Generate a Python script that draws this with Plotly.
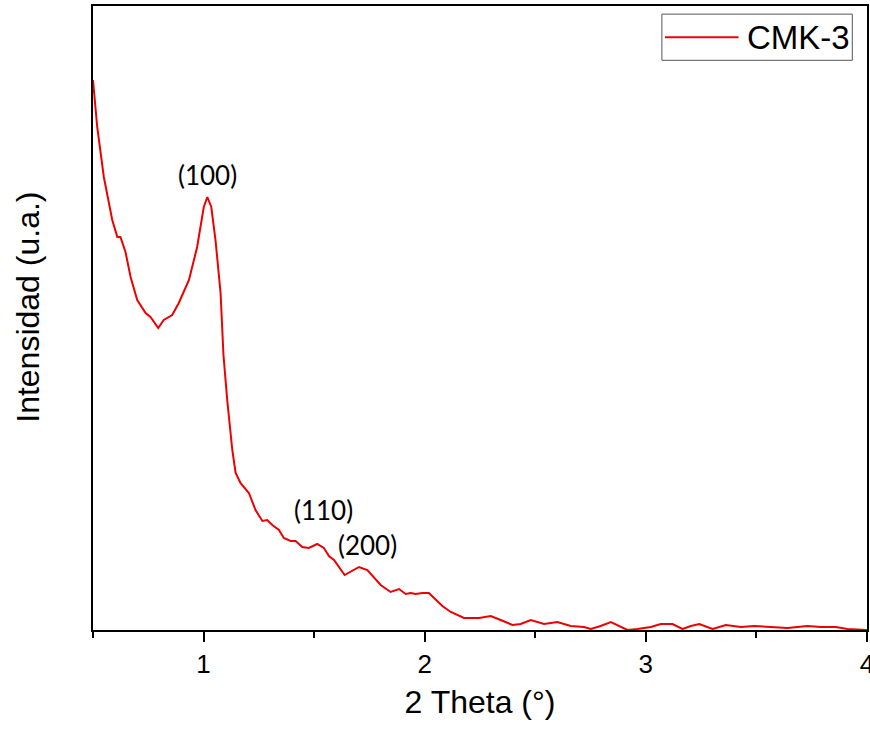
import plotly.graph_objects as go

two_theta = [0.500, 0.519, 0.549, 0.587, 0.610, 0.624, 0.647, 0.670, 0.700, 0.738,
             0.760, 0.775, 0.795, 0.820, 0.858, 0.888, 0.934, 0.971, 1.001, 1.017,
             1.035, 1.054, 1.077, 1.090, 1.107, 1.130, 1.145, 1.167, 1.205, 1.235,
             1.266, 1.288, 1.311, 1.341, 1.363, 1.394, 1.416, 1.447, 1.476, 1.514,
             1.544, 1.567, 1.590, 1.638, 1.673, 1.703, 1.741, 1.771, 1.801, 1.846,
             1.884, 1.914, 1.937, 1.959, 1.990, 2.019, 2.042, 2.080, 2.118, 2.178,
             2.246, 2.299, 2.344, 2.397, 2.434, 2.480, 2.540, 2.600, 2.661, 2.721,
             2.751, 2.796, 2.842, 2.880, 2.917, 2.962, 3.023, 3.068, 3.121, 3.166,
             3.204, 3.242, 3.302, 3.362, 3.430, 3.490, 3.566, 3.641, 3.731, 3.792,
             3.860, 3.912, 4.000]
intensity = [550, 503, 453, 410, 393, 393, 378, 353, 330, 317,
             313, 308, 302, 310, 315, 327, 350, 383, 423, 433,
             423, 390, 337, 275, 230, 180, 157, 147, 137, 120,
             109, 110, 105, 100, 92, 89, 89, 83, 82, 86,
             82, 74, 70, 55, 59, 63, 60, 53, 45, 38,
             41, 36, 37, 36, 37, 37, 32, 24, 18, 12,
             12, 14, 10, 5, 6, 10, 6, 8, 4, 3,
             1, 4, 8, 4, 0, 1, 3, 6, 6, 1,
             4, 6, 1, 5, 3, 4, 3, 2, 4, 3,
             3, 1, 0]

peak_labels = ["(100)", "(110)", "(200)"]
peak_x = [1.018, 1.543, 1.742]
peak_y = [455, 120, 85]

x_ticks = [1, 2, 3, 4]
series_name = "CMK-3"
line_color = "#ee0000"

fig = go.Figure()
fig.add_trace(go.Scatter(x=two_theta, y=intensity, mode="lines", name=series_name,
                         showlegend=False, line=dict(color=line_color, width=2)))

for t, px, py in zip(peak_labels, peak_x, peak_y):
    fig.add_annotation(x=px, y=py, text=t, showarrow=False,
                       font=dict(family="Lato, Open Sans, sans-serif", size=26, color="black"))

# legend box drawn in paper coordinates
fig.add_shape(type="rect", xref="paper", yref="paper", x0=0.735, x1=0.981, y0=0.913, y1=0.987,
              line=dict(color="#555555", width=1), fillcolor="white", layer="above")
fig.add_shape(type="line", xref="paper", yref="paper", x0=0.739, x1=0.834, y0=0.950, y1=0.950,
              line=dict(color=line_color, width=2), layer="above")
fig.add_annotation(xref="paper", yref="paper", x=0.843, y=0.950, xanchor="left", yanchor="middle",
                   text=series_name, showarrow=False,
                   font=dict(family="Liberation Sans, Arial, sans-serif", size=33, color="black"))

# y-axis title
fig.add_annotation(xref="paper", yref="paper", x=-0.084, y=0.518, xanchor="center", yanchor="middle",
                   text="Intensidad (u.a.)", textangle=-90, showarrow=False,
                   font=dict(family="Liberation Sans, Arial, sans-serif", size=32, color="black"))

fig.update_layout(
    width=870, height=730,
    margin=dict(l=93, r=3, t=6, b=100, autoexpand=False),
    paper_bgcolor="white", plot_bgcolor="white",
    font=dict(family="Liberation Sans, Arial, sans-serif", color="black"),
    showlegend=False,
)
fig.update_xaxes(range=[0.5, 4.0005], tickvals=x_ticks, ticks="outside", ticklen=10, tickwidth=2,
                 tickcolor="black", showline=True, linecolor="black", linewidth=2, mirror=True,
                 showgrid=False, zeroline=False, automargin=False, ticklabeloverflow="allow",
                 tickfont=dict(size=26),
                 minor=dict(tickvals=[0.5, 1.5, 2.5, 3.5], ticks="outside", ticklen=6, tickwidth=2,
                            tickcolor="black"),
                 title=dict(text="2 Theta (°)", font=dict(size=32), standoff=12))
fig.update_yaxes(range=[0, 624], showticklabels=False, ticks="", showline=True, linecolor="black",
                 linewidth=2, mirror=True, showgrid=False, zeroline=False, automargin=False)

fig.write_html("out.html", config={"displayModeBar": False},
               post_script="document.body.style.margin='0';document.body.style.overflow='hidden';")
